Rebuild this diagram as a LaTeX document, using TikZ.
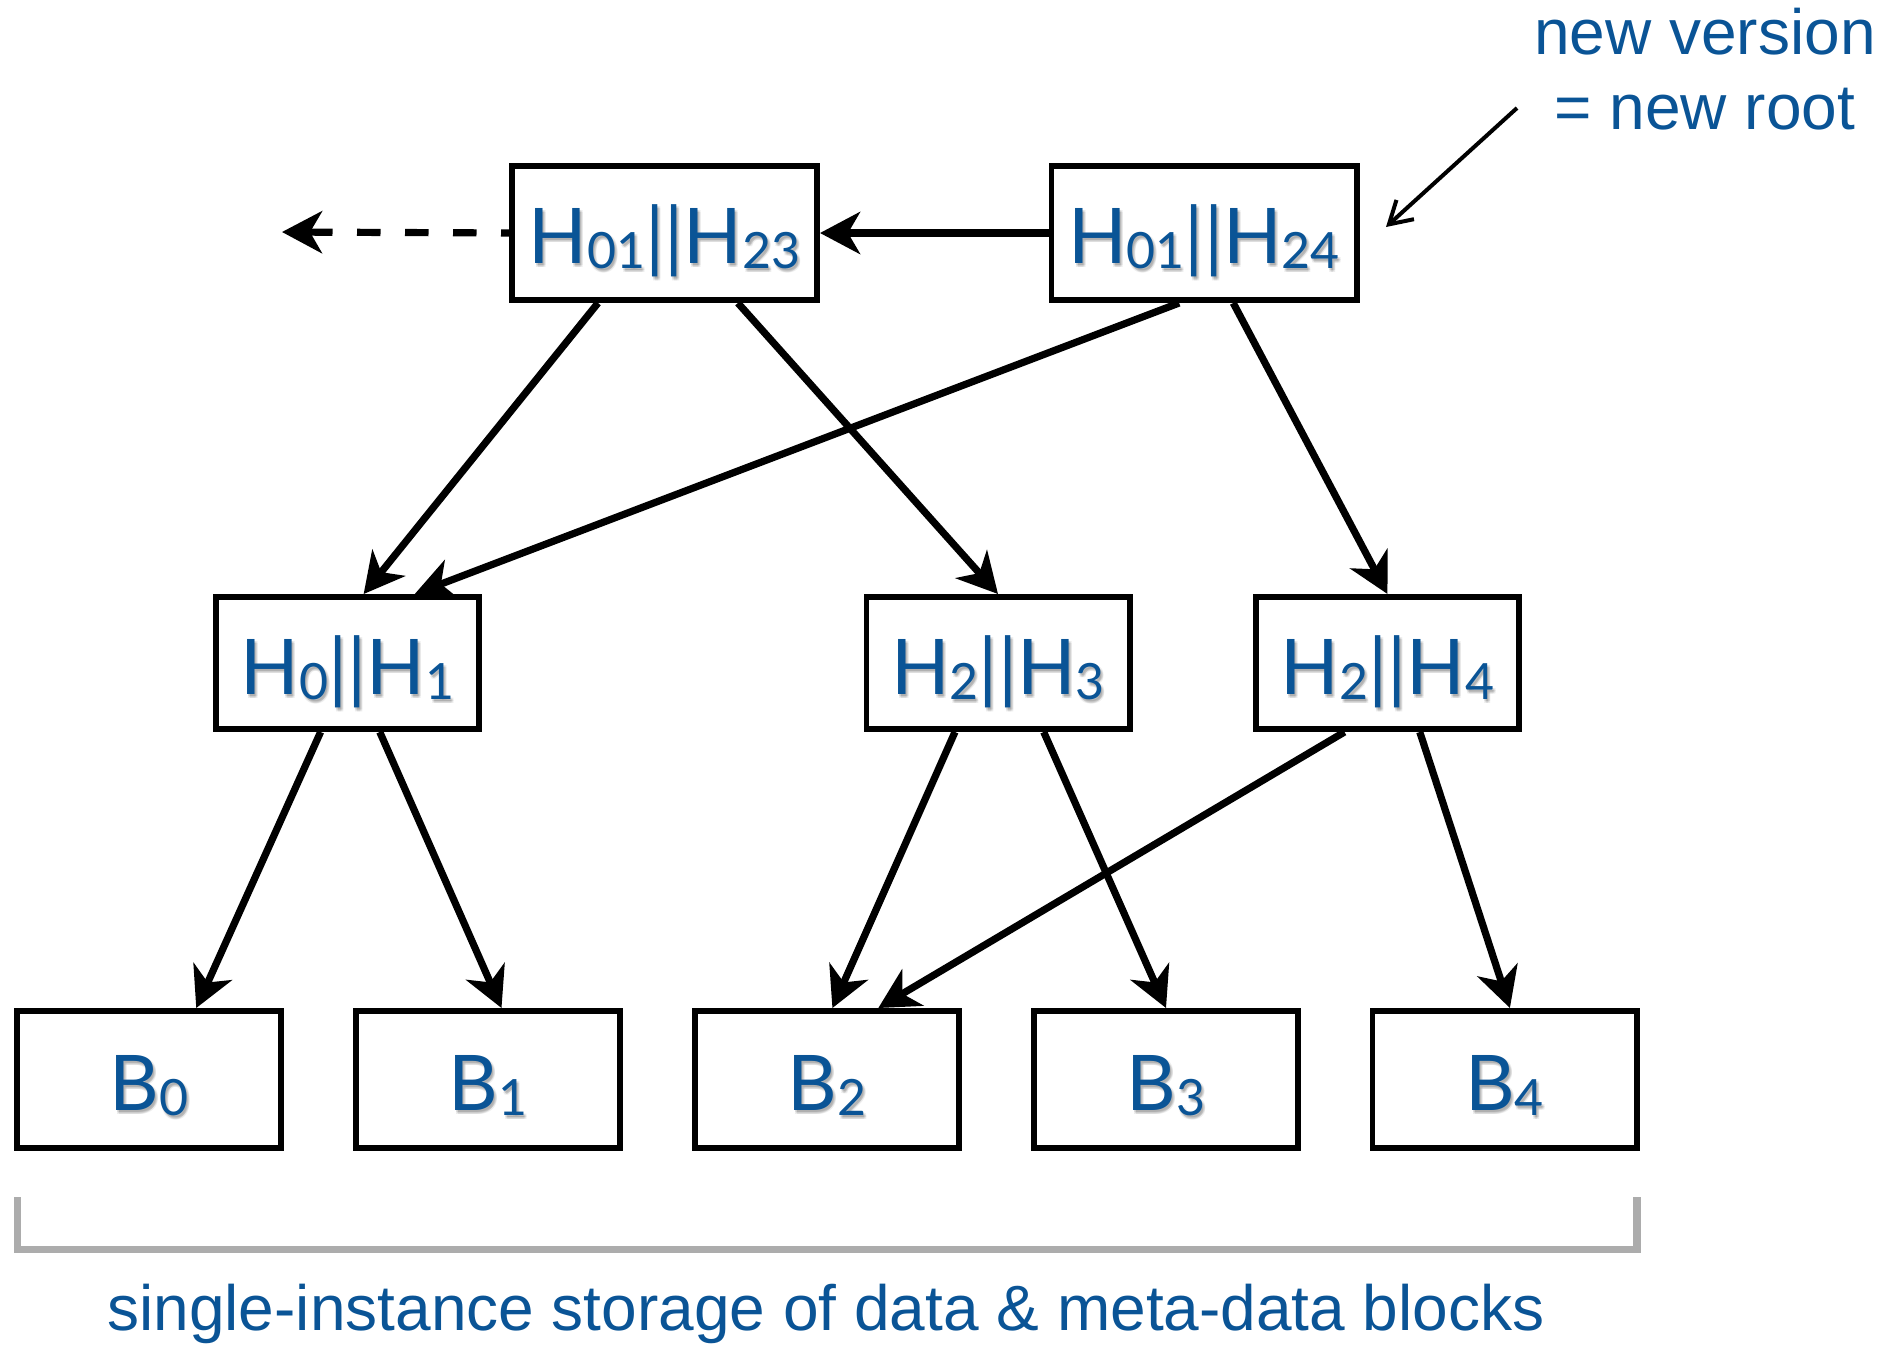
\documentclass[tikz,border=0pt]{standalone}
\usepackage{fontspec}
\setmainfont{Lato}
\newfontfamily\annfont{Liberation Sans}
\usetikzlibrary{arrows.meta,calc}
\definecolor{hashblue}{RGB}{10,84,150}
\definecolor{bracketgray}{RGB}{172,172,172}
% lowered, smaller index digits of the hash labels
\newcommand\hsub[1]{\raisebox{-2.8pt}{\fontsize{25}{26}\selectfont #1}}
% blue label on a block, over a soft grey shadow built from faint copies
\newcommand\blocklabel[3]{%
  \foreach \dx/\dy [count=\k] in {1/2,3/2,1/4,3/4,2/3}
    \node[lblshadow] (#1s\k) at ($(#1)+(\dx,#2+\dy)$) {#3};
  \node[lbl] (#1t) at ($(#1)+(0,#2)$) {#3};}
\begin{document}
\begin{tikzpicture}[x=0.5pt,y=-0.5pt,
  blk/.style={draw=black,line width=2.9pt,fill=white,inner sep=0pt},
  topblk/.style={blk,minimum width=152.6pt,minimum height=67.1pt},
  midblk/.style={blk,minimum width=131.6pt,minimum height=66.1pt},
  leafblk/.style={blk,minimum width=132.1pt,minimum height=68.6pt},
  lbl/.style={text=hashblue,font=\fontsize{38.4}{40}\selectfont,anchor=base,inner sep=0pt},
  lblshadow/.style={lbl,text=black,text opacity=0.07},
  link/.style={line width=3.6pt,-{Stealth[length=20pt,width=21pt,inset=6pt]}},
  note/.style={text=hashblue,font=\annfont\fontsize{32}{36}\selectfont,anchor=base,inner sep=0pt}
]
\useasboundingbox (0,0) rectangle (1888,1344);

% tree blocks
\node[topblk] (R1) at (664.5,233) {};
\node[topblk] (R2) at (1204,233) {};
\node[midblk] (M1) at (347.5,663) {};
\node[midblk] (M2) at (998,663) {};
\node[midblk] (M3) at (1387.5,663) {};
\node[leafblk] (B0) at (149,1079.5) {};
\node[leafblk] (B1) at (488,1079.5) {};
\node[leafblk] (B2) at (827,1079.5) {};
\node[leafblk] (B3) at (1166,1079.5) {};
\node[leafblk] (B4) at (1504.5,1079.5) {};

% block labels
\blocklabel{R1}{30}{H\hsub{01}||H\hsub{23}}
\blocklabel{R2}{30}{H\hsub{01}||H\hsub{24}}
\blocklabel{M1}{31}{H\hsub{0}||H\hsub{1}}
\blocklabel{M2}{31}{H\hsub{2}||H\hsub{3}}
\blocklabel{M3}{31}{H\hsub{2}||H\hsub{4}}
\blocklabel{B0}{30.5}{B\hsub{0}}
\blocklabel{B1}{30.5}{B\hsub{1}}
\blocklabel{B2}{30.5}{B\hsub{2}}
\blocklabel{B3}{30.5}{B\hsub{3}}
\blocklabel{B4}{30.5}{B\hsub{4}}

% version chain
\coordinate (prev) at (282,232);
\draw[link] (R2.west) -- (R1.east);
\draw[link,dash pattern=on 11.75pt off 12.25pt,dash phase=7.75pt] (R1.west) -- (prev);

% hash pointers
\draw[link] ($(R1.south west)!0.286!(R1.south east)$) -- ($(M1.north west)!0.56!(M1.north east)$);
\draw[link] ($(R1.south west)!0.736!(R1.south east)$) -- (M2.north);
\draw[link] ($(R2.south west)!0.42!(R2.south east)$) -- ($(M1.north west)!0.75!(M1.north east)$);
\draw[link] ($(R2.south west)!0.594!(R2.south east)$) -- (M3.north);
\draw[link] ($(M1.south west)!0.40!(M1.south east)$) -- ($(B0.north west)!0.675!(B0.north east)$);
\draw[link] ($(M1.south west)!0.62!(M1.south east)$) -- ($(B1.north west)!0.55!(B1.north east)$);
\draw[link] ($(M2.south west)!0.34!(M2.south east)$) -- ($(B2.north west)!0.52!(B2.north east)$);
\draw[link] ($(M2.south west)!0.67!(M2.south east)$) -- (B3.north);
\draw[link] ($(M3.south west)!0.34!(M3.south east)$) -- ($(B2.north west)!0.69!(B2.north east)$);
\draw[link] ($(M3.south west)!0.62!(M3.south east)$) -- ($(B4.north west)!0.52!(B4.north east)$);

% annotation of the new root
\node[note] (note1) at (1705,54) {new version};
\node[note] (note2) at (1705,129) {= new root};
\coordinate (noteStart) at (1517,108);
\coordinate (noteEnd) at (1386,227);
\draw[line width=2pt,-{Straight Barb[length=11pt,width=13pt]}] (noteStart) -- (noteEnd);

% bracket over all stored blocks
\coordinate (brTL) at (17.5,1197);
\coordinate (brBL) at (17.5,1249.5);
\coordinate (brBR) at (1637,1249.5);
\coordinate (brTR) at (1637,1197);
\draw[bracketgray,line width=3.8pt] (brTL) -- (brBL) -- (brBR) -- (brTR);
\node[note] (caption) at (826,1330) {single-instance storage of data \& meta-data blocks};
\end{tikzpicture}
\end{document}
